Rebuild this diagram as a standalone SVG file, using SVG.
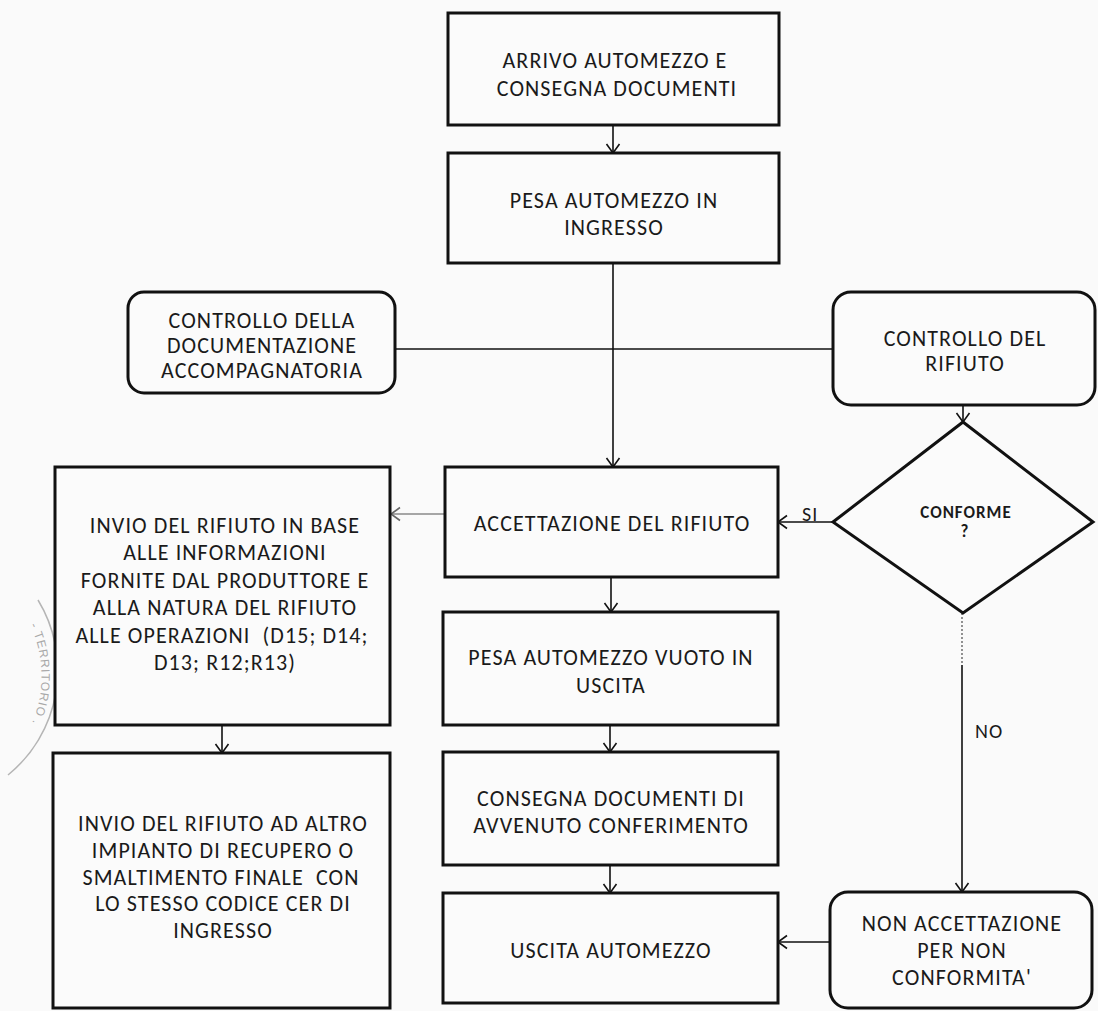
<svg xmlns="http://www.w3.org/2000/svg" width="1098" height="1011" viewBox="0 0 1098 1011">
  <defs>
    <style>
      .box { fill: #fbfbfb; stroke: #111; stroke-width: 3; }
      .lbl { font-family: Carlito, Lato, "Open Sans", "Liberation Sans", sans-serif; font-size: 22px; letter-spacing: 1.1px; fill: #1a1a1a; text-anchor: middle; white-space: pre; }
      .small { font-size: 17px; font-weight: bold; letter-spacing: 1px; }
      .edge { fill: none; stroke: #111; stroke-width: 1.6; }
      .faint { stroke: #8a8a8a; }
      .dotted { stroke: #777; stroke-dasharray: 2 2; }
      .tag { font-family: Carlito, Lato, "Open Sans", "Liberation Sans", sans-serif; font-size: 20px; letter-spacing: 1px; fill: #1a1a1a; }
      .stamp { fill: none; stroke: #b5b5b5; stroke-width: 1.5; }
      .stamptext { font-family: "Liberation Sans", sans-serif; font-size: 12px; fill: #a8a8a8; letter-spacing: 1px; }
    </style>
    <marker id="arr" viewBox="0 0 10 16" refX="10" refY="8" markerWidth="10" markerHeight="16" markerUnits="userSpaceOnUse" orient="auto">
      <path d="M1,1.5 L10,8 L1,14.5" fill="none" stroke="#111" stroke-width="1.6"/>
    </marker>
    <marker id="arrFaint" viewBox="0 0 10 16" refX="10" refY="8" markerWidth="10" markerHeight="16" markerUnits="userSpaceOnUse" orient="auto">
      <path d="M1,1.5 L10,8 L1,14.5" fill="none" stroke="#666" stroke-width="1.6"/>
    </marker>
    <path id="stampArc" d="M 30,625 A 120,120 0 0 1 20,745"/>
  </defs>

  <rect x="0" y="0" width="1098" height="1011" fill="#fafafa"/>

  <!-- stamp fragment on the left margin -->
  <g id="stamp">
    <path class="stamp" d="M 38,600 A 135,135 0 0 1 8,775"/>
    <text class="stamptext"><textPath href="#stampArc">- TERRITORIO .</textPath></text>
  </g>

  <!-- connectors -->
  <g id="connectors">
    <line class="edge" x1="613" y1="125" x2="613" y2="153" marker-end="url(#arr)"/>
    <line class="edge" x1="613" y1="263" x2="613" y2="467" marker-end="url(#arr)"/>
    <line class="edge" x1="395" y1="349" x2="833" y2="349"/>
    <line class="edge" x1="963" y1="405" x2="963" y2="422" marker-end="url(#arr)"/>
    <line class="edge" x1="833" y1="522" x2="778" y2="522" marker-end="url(#arr)"/>
    <text class="tag" x="802" y="521">SI</text>
    <line class="edge faint" x1="445" y1="514" x2="391" y2="514" marker-end="url(#arrFaint)"/>
    <line class="edge" x1="611" y1="577" x2="611" y2="612" marker-end="url(#arr)"/>
    <line class="edge" x1="610" y1="725" x2="610" y2="752" marker-end="url(#arr)"/>
    <line class="edge" x1="610" y1="865" x2="610" y2="893" marker-end="url(#arr)"/>
    <line class="edge" x1="222" y1="725" x2="222" y2="753" marker-end="url(#arr)"/>
    <line class="edge dotted" x1="962" y1="613" x2="962" y2="665"/>
    <line class="edge" x1="962" y1="665" x2="962" y2="892" marker-end="url(#arr)"/>
    <text class="tag" x="975" y="738">NO</text>
    <line class="edge" x1="830" y1="942" x2="778" y2="942" marker-end="url(#arr)"/>
  </g>

  <g id="arrivo">
    <rect class="box" x="448" y="13" width="331" height="112"/>
    <text class="lbl" x="615" y="68">ARRIVO AUTOMEZZO E</text>
    <text class="lbl" x="617" y="96">CONSEGNA DOCUMENTI</text>
  </g>

  <g id="pesa-ingresso">
    <rect class="box" x="448" y="153" width="331" height="110"/>
    <text class="lbl" x="614" y="208">PESA AUTOMEZZO IN</text>
    <text class="lbl" x="614" y="235">INGRESSO</text>
  </g>

  <g id="controllo-documentazione">
    <rect class="box" x="128" y="292" width="267" height="101" rx="16"/>
    <text class="lbl" x="262" y="328">CONTROLLO DELLA</text>
    <text class="lbl" x="262" y="353">DOCUMENTAZIONE</text>
    <text class="lbl" x="262" y="378">ACCOMPAGNATORIA</text>
  </g>

  <g id="controllo-rifiuto">
    <rect class="box" x="833" y="292" width="262" height="113" rx="18"/>
    <text class="lbl" x="965" y="346">CONTROLLO DEL</text>
    <text class="lbl" x="965" y="371">RIFIUTO</text>
  </g>

  <g id="conforme">
    <polygon class="box" points="963,422 1093,522 963,613 833,522"/>
    <text class="lbl small" x="966" y="518">CONFORME</text>
    <text class="lbl small" x="965" y="537">?</text>
  </g>

  <g id="accettazione">
    <rect class="box" x="445" y="467" width="333" height="110"/>
    <text class="lbl" x="612" y="531">ACCETTAZIONE DEL RIFIUTO</text>
  </g>

  <g id="invio-operazioni">
    <rect class="box" x="55" y="467" width="335" height="258"/>
    <text class="lbl" x="225" y="533">INVIO DEL RIFIUTO IN BASE</text>
    <text class="lbl" x="225" y="560">ALLE INFORMAZIONI</text>
    <text class="lbl" x="225" y="588">FORNITE DAL PRODUTTORE E</text>
    <text class="lbl" x="225" y="615">ALLA NATURA DEL RIFIUTO</text>
    <text class="lbl" x="222" y="643">ALLE OPERAZIONI  (D15; D14;</text>
    <text class="lbl" x="225" y="670">D13; R12;R13)</text>
  </g>

  <g id="pesa-uscita">
    <rect class="box" x="443" y="612" width="335" height="113"/>
    <text class="lbl" x="611" y="665">PESA AUTOMEZZO VUOTO IN</text>
    <text class="lbl" x="611" y="693">USCITA</text>
  </g>

  <g id="consegna-documenti">
    <rect class="box" x="443" y="752" width="335" height="113"/>
    <text class="lbl" x="611" y="806">CONSEGNA DOCUMENTI DI</text>
    <text class="lbl" x="611" y="833">AVVENUTO CONFERIMENTO</text>
  </g>

  <g id="uscita">
    <rect class="box" x="443" y="893" width="335" height="110"/>
    <text class="lbl" x="611" y="958">USCITA AUTOMEZZO</text>
  </g>

  <g id="invio-altro-impianto">
    <rect class="box" x="53" y="753" width="337" height="255"/>
    <text class="lbl" x="223" y="831">INVIO DEL RIFIUTO AD ALTRO</text>
    <text class="lbl" x="223" y="858">IMPIANTO DI RECUPERO O</text>
    <text class="lbl" x="221" y="885">SMALTIMENTO FINALE  CON</text>
    <text class="lbl" x="223" y="911">LO STESSO CODICE CER DI</text>
    <text class="lbl" x="223" y="938">INGRESSO</text>
  </g>

  <g id="non-accettazione">
    <rect class="box" x="830" y="892" width="262" height="116" rx="18"/>
    <text class="lbl" x="962" y="931">NON ACCETTAZIONE</text>
    <text class="lbl" x="962" y="958">PER NON</text>
    <text class="lbl" x="962" y="985">CONFORMITA'</text>
  </g>
</svg>
